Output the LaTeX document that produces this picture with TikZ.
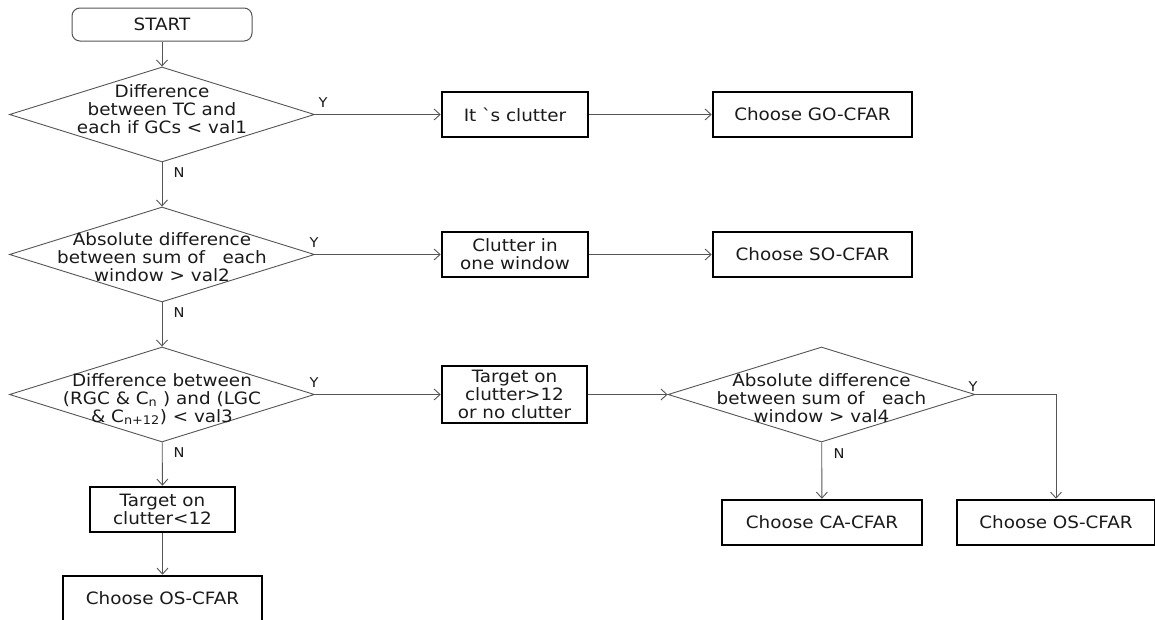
\documentclass[tikz,border=0pt]{standalone}
\usepackage{fontspec}
\setmainfont[FakeStretch=1.08]{DejaVu Sans}
\usetikzlibrary{shapes.geometric,arrows.meta}
\definecolor{ln}{HTML}{555555}
\definecolor{tx}{HTML}{1A1A1A}
\tikzset{
  mainfont/.style={font=\fontsize{17}{18}\selectfont, text=tx},
  dia/.style={diamond, draw=ln, line width=0.9pt, minimum width=305pt, minimum height=95pt, inner sep=0pt},
  dtext/.style={mainfont, align=center, inner sep=0pt},
  box/.style={draw=black, line width=2.6pt, minimum width=146pt, minimum height=45pt, inner sep=0pt, align=center, mainfont},
  widebox/.style={box, minimum width=199pt},
  startbox/.style={draw=ln, line width=1pt, rounded corners=8pt, minimum width=180pt, minimum height=33pt, mainfont},
  arr/.style={draw=ln, line width=0.9pt, -{Straight Barb[length=6pt,width=11pt]}},
  lab/.style={font=\fontsize{13.5}{13.5}\selectfont, text=tx, inner sep=0pt}
}
\begin{document}
\begin{tikzpicture}[x=1pt, y=-1pt]
\useasboundingbox (0,0) rectangle (1155,619);
\fill[white] (0,0) rectangle (1155,619);

\node[startbox] (start) at (162,24.5) {START};

\node[dia] (d1) at (162,114.5) {};
\node[dtext] (t1) at (162,109) {Difference\\between TC and\\each if GCs < val1};
\node[dia] (d2) at (162,254.5) {};
\node[dtext] (t2) at (162,257) {Absolute difference\\between sum of \ \ each\\window > val2};
\node[dia] (d3) at (162,394.5) {};
\node[dtext] (t3) at (162,399) {Difference between\\(RGC \& C\textsubscript{n} ) and (LGC\\\& C\textsubscript{n+12}) < val3};
\node[dia, minimum width=307pt] (d4) at (821.5,394.5) {};
\node[dtext] (t4) at (821.5,398) {Absolute difference\\between sum of \ \ each\\window > val4};

\node[box] (b1) at (515,114.5) {It \textasciigrave s clutter};
\node[widebox] (b2) at (812.5,114.5) {Choose GO-CFAR};
\node[box] (b3) at (515,254.5) {Clutter in\\one window};
\node[widebox] (b4) at (812.5,254.5) {Choose SO-CFAR};
\node[box, minimum width=145pt, minimum height=57pt] (b5) at (514.5,394.5) {Target on\\clutter>12\\or no clutter};
\node[widebox, minimum width=200pt] (b6) at (822,522.5) {Choose CA-CFAR};
\node[widebox, minimum width=198pt] (b7) at (1056,522.5) {Choose OS-CFAR};
\node[box, minimum width=145pt] (b8) at (162.5,509.5) {Target on\\clutter<12};
\node[widebox] (b9) at (162.5,598.5) {Choose OS-CFAR};

\draw[arr] (start) -- (d1);
\draw[arr] (d1.east) -- (b1.west);
\draw[arr] (b1) -- (b2);
\draw[arr] (d1) -- (d2);
\draw[arr] (d2.east) -- (b3.west);
\draw[arr] (b3) -- (b4);
\draw[arr] (d2) -- (d3);
\draw[arr] (d3.east) -- (b5.west);
\draw[arr] (b5.east) -- (d4.west);
\draw[arr] (d4.east) -| (b7.north);
\draw[arr] (d4) -- (b6);
\draw[arr] (d3) -- (b8);
\draw[arr] (b8) -- (b9);

\node[lab] (y1) at (323,103) {Y};
\node[lab] (y2) at (314,243) {Y};
\node[lab] (y3) at (314,383) {Y};
\node[lab] (y4) at (973,387) {Y};
\node[lab] (n1) at (179,173) {N};
\node[lab] (n2) at (179,313) {N};
\node[lab] (n3) at (179,453) {N};
\node[lab] (n4) at (839,454) {N};
\end{tikzpicture}
\end{document}
